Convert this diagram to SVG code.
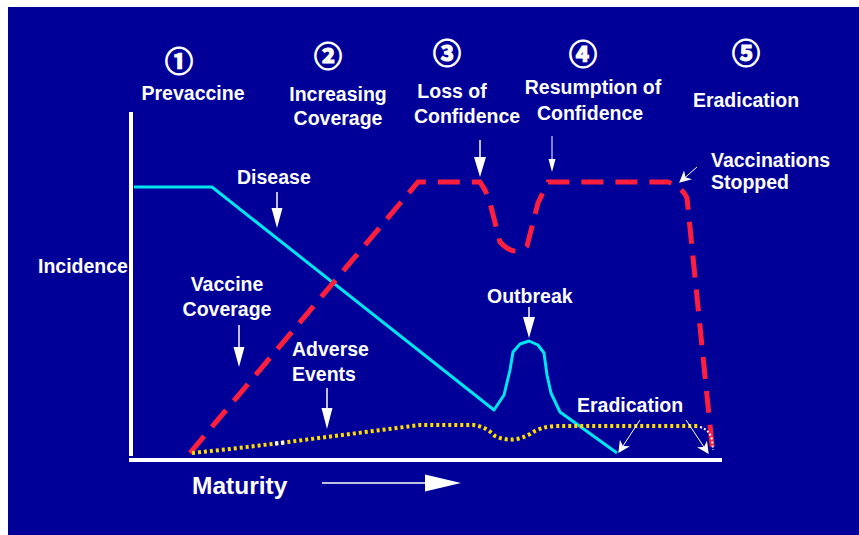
<svg xmlns="http://www.w3.org/2000/svg" width="859" height="535" viewBox="0 0 859 535">
<defs>
<style>
.t{font-family:"Liberation Sans",Arial,sans-serif;font-weight:bold;font-size:19.5px;fill:#fff}
.n{font-family:"Noto Sans CJK SC","DejaVu Sans",sans-serif;font-weight:bold;font-size:28px;fill:#fff;stroke:#fff;stroke-width:1.2;text-anchor:middle}
.c{text-anchor:middle}
.ax{stroke:#fff;stroke-width:4;fill:none}
.arr{stroke:#fff;stroke-width:1.5;fill:none}
.head{fill:#fff}
</style>
<marker id="ah2" viewBox="0 0 10 10" refX="9" refY="5" markerWidth="12" markerHeight="12" orient="auto" markerUnits="userSpaceOnUse">
<path d="M0,0 L10,5 L0,10 L3,5 Z" fill="#fff"/>
</marker>
</defs>
<rect x="0" y="0" width="859" height="535" fill="#fff"/>
<rect x="8" y="7" width="851" height="528" fill="#000099"/>

<g id="axes">
<line class="ax" x1="131" y1="112" x2="131" y2="456"/>
<line class="ax" x1="129" y1="460" x2="722" y2="460"/>
</g>

<g id="curves">
<path id="disease" d="M134,187 L212,187 L494,410 L504,395 L510,370 L513,352 L520,344 L529,341 L538,345 L544,353 L547,375 L551,393 L560,412 L617,453" fill="none" stroke="#00e5ee" stroke-width="3" stroke-linejoin="round"/>
<path id="coverage" d="M190,453 L418,182 L480,182 Q487,192 490,203 L500,242 Q515,258 527,246 L538,203 L548,182 L668,182 Q682,187 687,198 L713,455" fill="none" stroke="#ff1f3d" stroke-width="5" stroke-dasharray="22 12"/>
<path id="adverse" d="M192,453 L230,449 L280,443 L350,434 L420,425 L473,425 Q485,426 495,436 Q512,444 530,434 Q540,427 555,426 L700,426" fill="none" stroke="#ffdd00" stroke-width="4" stroke-dasharray="3 3"/>
<path d="M275,443.5 L285,442.5" fill="none" stroke="#fff" stroke-width="4" stroke-dasharray="3 3"/>
<path d="M700,427 Q710,430 712,440 L713,450" fill="none" stroke="#fff" stroke-width="2" stroke-dasharray="2 2"/>
</g>

<g id="maturity">
<text class="t" x="192" y="494" style="font-size:24.5px">Maturity</text>
<line x1="322" y1="483" x2="426" y2="483" stroke="#fff" stroke-width="1.5"/>
<path class="head" d="M425,474.5 L461,483 L425,491.5 Z"/>
</g>

<g id="stage1"><text class="n" x="179" y="72">①</text><text class="t c" x="193" y="100">Prevaccine</text></g>
<g id="stage2"><text class="n" x="328" y="67">②</text><text class="t c" x="338" y="101">Increasing</text><text class="t c" x="338" y="125">Coverage</text></g>
<g id="stage3"><text class="n" x="447" y="64">③</text><text class="t c" x="452" y="98">Loss of</text><text class="t c" x="467" y="123">Confidence</text></g>
<g id="stage4"><text class="n" x="583" y="65">④</text><text class="t c" x="593" y="94">Resumption of</text><text class="t c" x="590" y="120">Confidence</text></g>
<g id="stage5"><text class="n" x="746" y="64">⑤</text><text class="t c" x="746" y="107">Eradication</text></g>

<g id="incidence"><text class="t" x="38" y="273">Incidence</text></g>

<g id="disease-label">
<text class="t" x="237" y="184">Disease</text>
<line class="arr" x1="277" y1="192" x2="277" y2="209"/>
<path class="head" d="M271.5,208 L282.5,208 L277,228 Z"/>
</g>

<g id="loss-arrow">
<line class="arr" x1="480" y1="140" x2="480" y2="158"/>
<path class="head" d="M474,157 L486,157 L480,177 Z"/>
</g>

<g id="resumption-arrow">
<line x1="552" y1="136" x2="552" y2="160" stroke="#fff" stroke-width="1"/>
<path class="head" d="M548.5,159 L555.5,159 L552,172 Z"/>
</g>

<g id="stopped">
<text class="t" x="711" y="167">Vaccinations</text>
<text class="t" x="711" y="189">Stopped</text>
<line x1="697" y1="167" x2="680" y2="182" stroke="#fff" stroke-width="1" marker-end="url(#ah2)"/>
</g>

<g id="vaccine-coverage">
<text class="t c" x="227" y="291">Vaccine</text>
<text class="t c" x="227" y="316">Coverage</text>
<line class="arr" x1="239" y1="325" x2="239" y2="348"/>
<path class="head" d="M233.5,347 L244.5,347 L239,367 Z"/>
</g>

<g id="adverse-events">
<text class="t" x="292" y="356">Adverse</text>
<text class="t" x="292" y="381">Events</text>
<line class="arr" x1="327" y1="388" x2="327" y2="409"/>
<path class="head" d="M321.5,408 L332.5,408 L327,429 Z"/>
</g>

<g id="outbreak">
<text class="t" x="487" y="303">Outbreak</text>
<line class="arr" x1="529" y1="307" x2="529" y2="318"/>
<path class="head" d="M523,317 L535,317 L529,338 Z"/>
</g>

<g id="eradication">
<text class="t" x="577" y="412">Eradication</text>
<line x1="640" y1="420" x2="619" y2="452" stroke="#fff" stroke-width="1" marker-end="url(#ah2)"/>
<line x1="686" y1="420" x2="708" y2="453" stroke="#fff" stroke-width="1" marker-end="url(#ah2)"/>
</g>
</svg>
